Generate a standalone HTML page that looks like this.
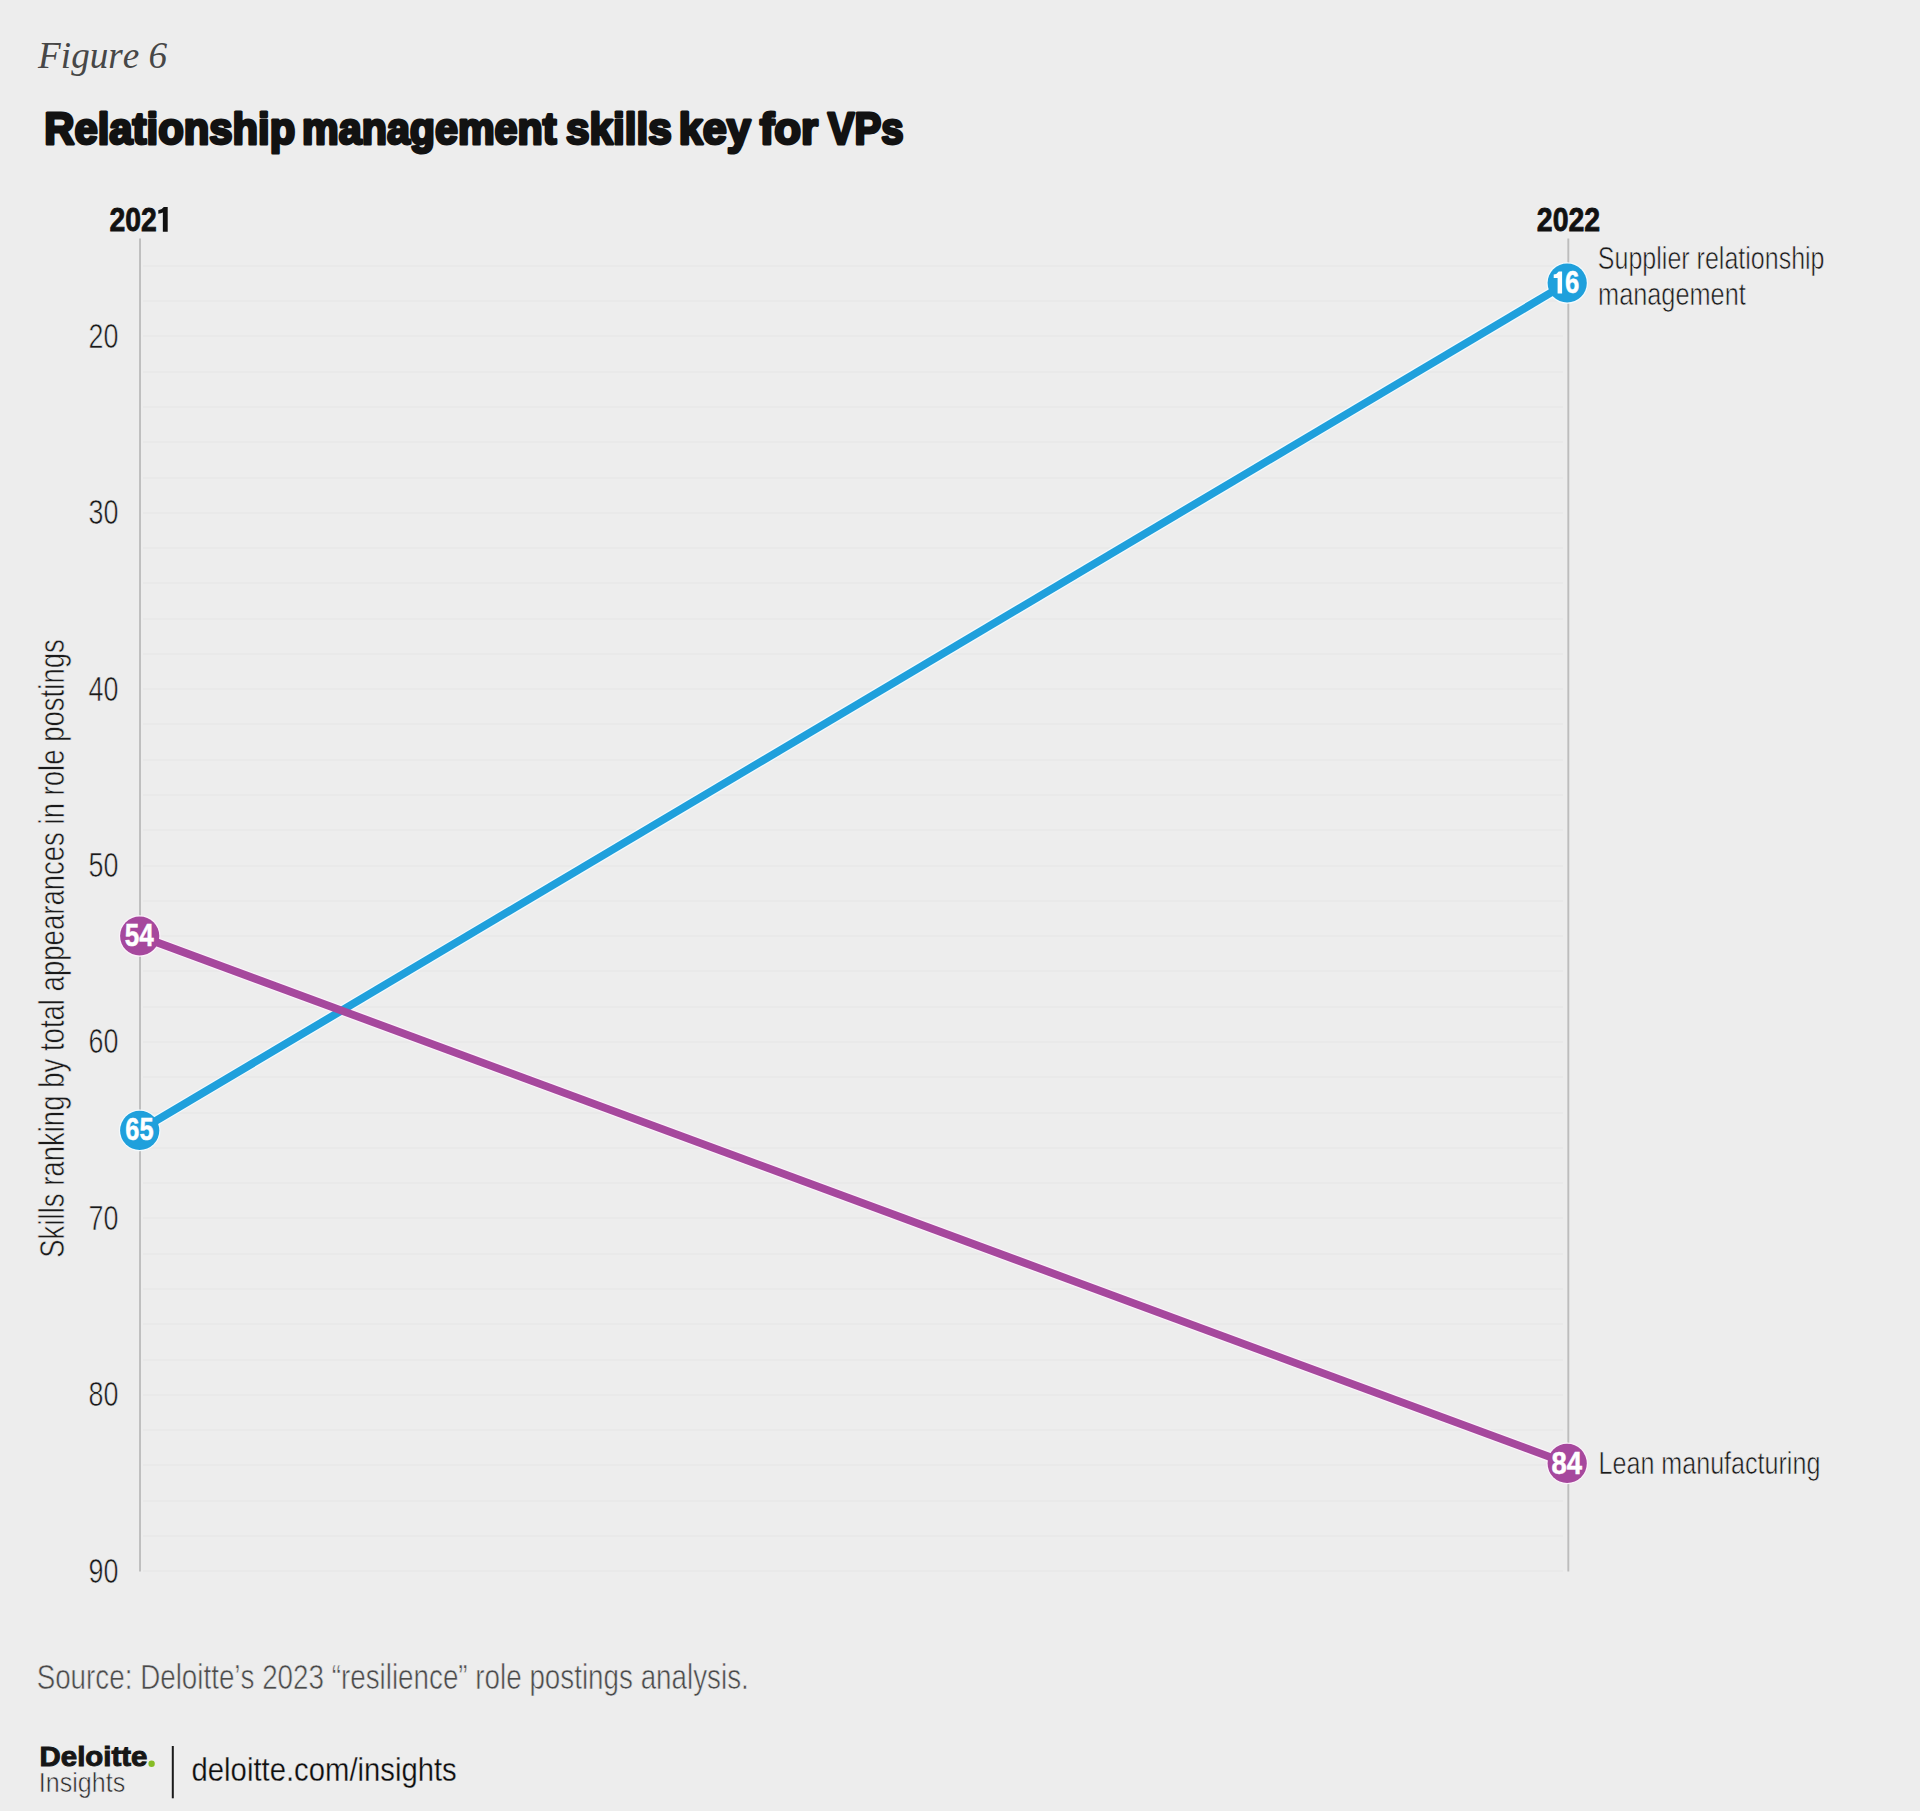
<!DOCTYPE html>
<html><head><meta charset="utf-8"><title>Relationship management skills key for VPs</title>
<style>
html,body{margin:0;padding:0;background:#ededed;}
body{width:1920px;height:1811px;overflow:hidden;}
svg{display:block;font-family:"Liberation Sans", sans-serif;font-kerning:none;}
svg text{font-kerning:none;}
</style></head><body>
<svg width="1920" height="1811" viewBox="0 0 1920 1811">
<rect width="1920" height="1811" fill="#ededed"/>
<line x1="143" x2="1563" y1="266.00" y2="266.00" stroke="#e6e6e6" stroke-width="1.2"/>
<line x1="143" x2="1563" y1="301.00" y2="301.00" stroke="#e6e6e6" stroke-width="1.2"/>
<line x1="143" x2="1563" y1="336.00" y2="336.00" stroke="#e6e6e6" stroke-width="1.2"/>
<line x1="143" x2="1563" y1="372.00" y2="372.00" stroke="#e6e6e6" stroke-width="1.2"/>
<line x1="143" x2="1563" y1="407.00" y2="407.00" stroke="#e6e6e6" stroke-width="1.2"/>
<line x1="143" x2="1563" y1="442.00" y2="442.00" stroke="#e6e6e6" stroke-width="1.2"/>
<line x1="143" x2="1563" y1="478.00" y2="478.00" stroke="#e6e6e6" stroke-width="1.2"/>
<line x1="143" x2="1563" y1="513.00" y2="513.00" stroke="#e6e6e6" stroke-width="1.2"/>
<line x1="143" x2="1563" y1="548.00" y2="548.00" stroke="#e6e6e6" stroke-width="1.2"/>
<line x1="143" x2="1563" y1="583.00" y2="583.00" stroke="#e6e6e6" stroke-width="1.2"/>
<line x1="143" x2="1563" y1="619.00" y2="619.00" stroke="#e6e6e6" stroke-width="1.2"/>
<line x1="143" x2="1563" y1="654.00" y2="654.00" stroke="#e6e6e6" stroke-width="1.2"/>
<line x1="143" x2="1563" y1="689.00" y2="689.00" stroke="#e6e6e6" stroke-width="1.2"/>
<line x1="143" x2="1563" y1="724.00" y2="724.00" stroke="#e6e6e6" stroke-width="1.2"/>
<line x1="143" x2="1563" y1="760.00" y2="760.00" stroke="#e6e6e6" stroke-width="1.2"/>
<line x1="143" x2="1563" y1="795.00" y2="795.00" stroke="#e6e6e6" stroke-width="1.2"/>
<line x1="143" x2="1563" y1="830.00" y2="830.00" stroke="#e6e6e6" stroke-width="1.2"/>
<line x1="143" x2="1563" y1="866.00" y2="866.00" stroke="#e6e6e6" stroke-width="1.2"/>
<line x1="143" x2="1563" y1="901.00" y2="901.00" stroke="#e6e6e6" stroke-width="1.2"/>
<line x1="143" x2="1563" y1="936.00" y2="936.00" stroke="#e6e6e6" stroke-width="1.2"/>
<line x1="143" x2="1563" y1="971.00" y2="971.00" stroke="#e6e6e6" stroke-width="1.2"/>
<line x1="143" x2="1563" y1="1007.00" y2="1007.00" stroke="#e6e6e6" stroke-width="1.2"/>
<line x1="143" x2="1563" y1="1042.00" y2="1042.00" stroke="#e6e6e6" stroke-width="1.2"/>
<line x1="143" x2="1563" y1="1077.00" y2="1077.00" stroke="#e6e6e6" stroke-width="1.2"/>
<line x1="143" x2="1563" y1="1113.00" y2="1113.00" stroke="#e6e6e6" stroke-width="1.2"/>
<line x1="143" x2="1563" y1="1148.00" y2="1148.00" stroke="#e6e6e6" stroke-width="1.2"/>
<line x1="143" x2="1563" y1="1183.00" y2="1183.00" stroke="#e6e6e6" stroke-width="1.2"/>
<line x1="143" x2="1563" y1="1218.00" y2="1218.00" stroke="#e6e6e6" stroke-width="1.2"/>
<line x1="143" x2="1563" y1="1254.00" y2="1254.00" stroke="#e6e6e6" stroke-width="1.2"/>
<line x1="143" x2="1563" y1="1289.00" y2="1289.00" stroke="#e6e6e6" stroke-width="1.2"/>
<line x1="143" x2="1563" y1="1324.00" y2="1324.00" stroke="#e6e6e6" stroke-width="1.2"/>
<line x1="143" x2="1563" y1="1360.00" y2="1360.00" stroke="#e6e6e6" stroke-width="1.2"/>
<line x1="143" x2="1563" y1="1395.00" y2="1395.00" stroke="#e6e6e6" stroke-width="1.2"/>
<line x1="143" x2="1563" y1="1430.00" y2="1430.00" stroke="#e6e6e6" stroke-width="1.2"/>
<line x1="143" x2="1563" y1="1465.00" y2="1465.00" stroke="#e6e6e6" stroke-width="1.2"/>
<line x1="143" x2="1563" y1="1501.00" y2="1501.00" stroke="#e6e6e6" stroke-width="1.2"/>
<line x1="143" x2="1563" y1="1536.00" y2="1536.00" stroke="#e6e6e6" stroke-width="1.2"/>
<line x1="143" x2="1563" y1="1571.00" y2="1571.00" stroke="#e6e6e6" stroke-width="1.2"/>
<line x1="140.0" x2="140.0" y1="238.4" y2="1571.6" stroke="#bdbdbd" stroke-width="1.9"/>
<line x1="1568.3" x2="1568.3" y1="238.4" y2="1571.6" stroke="#bdbdbd" stroke-width="1.9"/>
<text x="88.45" y="347.67" font-size="35" font-weight="normal" textLength="29.90" lengthAdjust="spacingAndGlyphs" fill="#1a1a1a" stroke="#ededed" stroke-width="0.6">20</text>
<text x="88.45" y="524.09" font-size="35" font-weight="normal" textLength="29.90" lengthAdjust="spacingAndGlyphs" fill="#1a1a1a" stroke="#ededed" stroke-width="0.6">30</text>
<text x="88.45" y="700.51" font-size="35" font-weight="normal" textLength="29.90" lengthAdjust="spacingAndGlyphs" fill="#1a1a1a" stroke="#ededed" stroke-width="0.6">40</text>
<text x="88.45" y="876.93" font-size="35" font-weight="normal" textLength="29.90" lengthAdjust="spacingAndGlyphs" fill="#1a1a1a" stroke="#ededed" stroke-width="0.6">50</text>
<text x="88.45" y="1053.35" font-size="35" font-weight="normal" textLength="29.90" lengthAdjust="spacingAndGlyphs" fill="#1a1a1a" stroke="#ededed" stroke-width="0.6">60</text>
<text x="88.45" y="1229.77" font-size="35" font-weight="normal" textLength="29.90" lengthAdjust="spacingAndGlyphs" fill="#1a1a1a" stroke="#ededed" stroke-width="0.6">70</text>
<text x="88.45" y="1406.19" font-size="35" font-weight="normal" textLength="29.90" lengthAdjust="spacingAndGlyphs" fill="#1a1a1a" stroke="#ededed" stroke-width="0.6">80</text>
<text x="88.45" y="1582.61" font-size="35" font-weight="normal" textLength="29.90" lengthAdjust="spacingAndGlyphs" fill="#1a1a1a" stroke="#ededed" stroke-width="0.6">90</text>
<text transform="translate(63.8,0) rotate(-90)" x="-1257.75" y="0" font-size="34.5" textLength="618.55" lengthAdjust="spacingAndGlyphs" fill="#1a1a1a" stroke="#ededed" stroke-width="0.6">Skills ranking by total appearances in role postings</text>
<text x="109.42" y="231.29999999999998" font-family="'Liberation Sans', sans-serif" font-size="33.61581920903955" font-weight="bold" font-style="normal" textLength="47.32" lengthAdjust="spacingAndGlyphs" fill="#111" stroke="#111" stroke-width="0.8">202</text>
<path d="M162.85 231.7 L167.7 231.7 L167.7 207.1 L163.8 207.1 Q162.2 209.7 158.3 210.3 L158.3 213.7 Q161 213.6 162.85 212.6 Z" fill="#111"/>
<text x="1536.81" y="231.2" font-family="'Liberation Sans', sans-serif" font-size="33.61581920903955" font-weight="bold" font-style="normal" textLength="63.33" lengthAdjust="spacingAndGlyphs" fill="#111" stroke="#111" stroke-width="0.8">2022</text>
<line x1="139.7" y1="1130.4" x2="1567.2" y2="283.0" stroke="#f4fbfe" stroke-width="10.2"/>
<line x1="139.7" y1="936.0" x2="1567.2" y2="1463.4" stroke="#fcf2fb" stroke-width="10.2"/>
<circle cx="139.7" cy="1130.4" r="20.8" fill="#f4fbfe"/>
<circle cx="1567.2" cy="283.0" r="20.8" fill="#f4fbfe"/>
<circle cx="139.7" cy="936.0" r="20.8" fill="#fcf2fb"/>
<circle cx="1567.2" cy="1463.4" r="20.8" fill="#fcf2fb"/>
<line x1="139.7" y1="1130.4" x2="1567.2" y2="283.0" stroke="#1fa0dc" stroke-width="7.8"/>
<line x1="139.7" y1="936.0" x2="1567.2" y2="1463.4" stroke="#a6489d" stroke-width="7.8"/>
<circle cx="139.7" cy="1130.4" r="19.6" fill="#1fa0dc"/>
<text x="125.32" y="1140.25" font-family="'Liberation Sans', sans-serif" font-size="31.5" font-weight="bold" font-style="normal" textLength="28.24" lengthAdjust="spacingAndGlyphs" fill="#fff" stroke="#fff" stroke-width="0.5">65</text>
<circle cx="1567.2" cy="283.0" r="19.6" fill="#1fa0dc"/>
<text x="1565.01" y="292.95" font-family="'Liberation Sans', sans-serif" font-size="31.5" font-weight="bold" font-style="normal" textLength="14.27" lengthAdjust="spacingAndGlyphs" fill="#fff" stroke="#fff" stroke-width="0.5">6</text>
<path d="M1557.6 293.4 L1562.1 293.4 L1562.1 271.4 L1558.7 271.4 Q1557.2 273.9 1553.7 274.6 L1553.7 278 L1557.6 278 Z" fill="#fff"/>
<circle cx="139.7" cy="936.0" r="19.6" fill="#a6489d"/>
<text x="124.85" y="946.15" font-family="'Liberation Sans', sans-serif" font-size="31.5" font-weight="bold" font-style="normal" textLength="29.04" lengthAdjust="spacingAndGlyphs" fill="#fff" stroke="#fff" stroke-width="0.5">54</text>
<circle cx="1567.2" cy="1463.4" r="19.6" fill="#a6489d"/>
<text x="1551.38" y="1473.65" font-family="'Liberation Sans', sans-serif" font-size="31.5" font-weight="bold" font-style="normal" textLength="30.52" lengthAdjust="spacingAndGlyphs" fill="#fff" stroke="#fff" stroke-width="0.5">84</text>
<text x="1597.86" y="269.4" font-family="'Liberation Sans', sans-serif" font-size="31.5" font-weight="normal" font-style="normal" textLength="226.69" lengthAdjust="spacingAndGlyphs" fill="#1a1a1a" stroke="#ededed" stroke-width="0.6">Supplier relationship</text>
<text x="1598.07" y="305" font-family="'Liberation Sans', sans-serif" font-size="31.5" font-weight="normal" font-style="normal" textLength="147.72" lengthAdjust="spacingAndGlyphs" fill="#1a1a1a" stroke="#ededed" stroke-width="0.6">management</text>
<text x="1598.54" y="1474" font-family="'Liberation Sans', sans-serif" font-size="31.5" font-weight="normal" font-style="normal" textLength="221.83" lengthAdjust="spacingAndGlyphs" fill="#1a1a1a" stroke="#ededed" stroke-width="0.6">Lean manufacturing</text>
<text x="38.1" y="67.5" font-family="'Liberation Serif', serif" font-size="38.8" font-weight="normal" font-style="italic" textLength="129.08" lengthAdjust="spacingAndGlyphs" fill="#474747" >Figure 6</text>
<text x="44.3" y="144.3" font-family="'Liberation Sans', sans-serif" font-size="45" font-weight="bold" font-style="normal" textLength="250.91" lengthAdjust="spacingAndGlyphs" fill="#121212" stroke="#121212" stroke-width="3.0" stroke-linejoin="round">Relationship</text>
<text x="302.08" y="144.3" font-family="'Liberation Sans', sans-serif" font-size="45" font-weight="bold" font-style="normal" textLength="254.42" lengthAdjust="spacingAndGlyphs" fill="#121212" stroke="#121212" stroke-width="3.0" stroke-linejoin="round">management</text>
<text x="566.01" y="144.3" font-family="'Liberation Sans', sans-serif" font-size="45" font-weight="bold" font-style="normal" textLength="105.72" lengthAdjust="spacingAndGlyphs" fill="#121212" stroke="#121212" stroke-width="3.0" stroke-linejoin="round">skills</text>
<text x="678.78" y="144.3" font-family="'Liberation Sans', sans-serif" font-size="45" font-weight="bold" font-style="normal" textLength="72.05" lengthAdjust="spacingAndGlyphs" fill="#121212" stroke="#121212" stroke-width="3.0" stroke-linejoin="round">key</text>
<text x="759.75" y="144.3" font-family="'Liberation Sans', sans-serif" font-size="45" font-weight="bold" font-style="normal" textLength="58.41" lengthAdjust="spacingAndGlyphs" fill="#121212" stroke="#121212" stroke-width="3.0" stroke-linejoin="round">for</text>
<text x="827.83" y="144.3" font-family="'Liberation Sans', sans-serif" font-size="45" font-weight="bold" font-style="normal" textLength="75.72" lengthAdjust="spacingAndGlyphs" fill="#121212" stroke="#121212" stroke-width="3.0" stroke-linejoin="round">VPs</text>
<text x="36.64" y="1688.5" font-family="'Liberation Sans', sans-serif" font-size="34.5" font-weight="normal" font-style="normal" textLength="712.15" lengthAdjust="spacingAndGlyphs" fill="#4a4a4a" stroke="#ededed" stroke-width="0.6">Source: Deloitte’s 2023 “resilience” role postings analysis.</text>
<text x="39.63" y="1766.2" font-family="'Liberation Sans', sans-serif" font-size="28.197674418604652" font-weight="bold" font-style="normal" textLength="107.77" lengthAdjust="spacingAndGlyphs" fill="#161616" stroke="#161616" stroke-width="1.0">Deloitte</text>
<circle cx="151.6" cy="1763.8" r="3.2" fill="#86bc25"/>
<text x="38.79" y="1791.7" font-family="'Liberation Sans', sans-serif" font-size="28.3" font-weight="normal" font-style="normal" textLength="86.42" lengthAdjust="spacingAndGlyphs" fill="#2a2a2a" stroke="#ededed" stroke-width="0.6">Insights</text>
<rect x="171.8" y="1746" width="2" height="52.3" fill="#1a1a1a"/>
<text x="191.57" y="1781.1" font-family="'Liberation Sans', sans-serif" font-size="33" font-weight="normal" font-style="normal" textLength="265.19" lengthAdjust="spacingAndGlyphs" fill="#0e0e0e" stroke="#ededed" stroke-width="0.3">deloitte.com/insights</text>
</svg>
</body></html>
